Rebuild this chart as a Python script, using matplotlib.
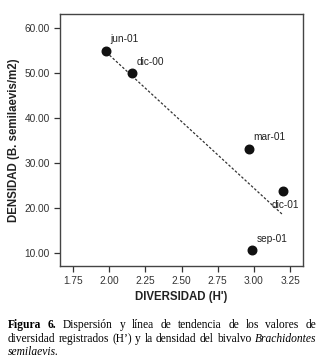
import matplotlib
matplotlib.use("Agg")
import matplotlib.pyplot as plt
import numpy as np

# Data
months = ["jun-01", "dic-00", "mar-01", "dic-01", "sep-01"]
diversity = np.array([1.98, 2.16, 2.97, 3.20, 2.99])
density = np.array([54.9, 49.9, 33.2, 23.7, 10.7])
xticks = [1.75, 2.00, 2.25, 2.50, 2.75, 3.00, 3.25]
yticks = [10, 20, 30, 40, 50, 60]

plt.rcParams['font.family'] = ['Liberation Sans', 'DejaVu Sans']

fig = plt.figure(figsize=(3.22, 3.59), dpi=100)
ax = fig.add_axes([60/322, 1 - 266/359, 243/322, 252/359])

ax.scatter(diversity, density, s=38, color='#111111', zorder=3)

# linear trend line
slope, icpt = np.polyfit(diversity, density, 1)
xl = np.array([diversity.min(), diversity.max()])
ax.plot(xl, slope * xl + icpt, linestyle=(0, (2, 1.5)), color='#333333', linewidth=0.9)

offsets = {"jun-01": (3, 6), "dic-00": (3, 6), "mar-01": (3, 6),
           "dic-01": (-8, -12), "sep-01": (3, 6)}
for m, x, y in zip(months, diversity, density):
    ax.annotate(m, (x, y), xytext=offsets[m], textcoords='offset points',
                fontsize=7.3, color='#222222')

ax.set_xlim(1.66, 3.34)
ax.set_ylim(7.2, 63.0)
ax.set_xticks(xticks)
ax.set_xticklabels([f"{v:.2f}" for v in xticks])
ax.set_yticks(yticks)
ax.set_yticklabels([f"{v:.2f}" for v in yticks])
ax.tick_params(labelsize=7.3, colors='#333333', length=4, width=0.9)
for s in ax.spines.values():
    s.set_color('#444444')
    s.set_linewidth(1.0)

ax.set_xlabel("DIVERSIDAD (H')", fontsize=8.3, fontweight='bold', color='#222222', labelpad=3)
ax.set_ylabel("DENSIDAD (B. semilaevis/m2)", fontsize=8.3, fontweight='bold', color='#222222', labelpad=3)

# caption, justified by spreading words between the margins
serif = ['Liberation Serif', 'DejaVu Serif']
fs = 8.3
left, right = 8, 316
lines = [
    ([("Figura", 'bold'), ("6.", 'bold'), ("Dispersión", ''), ("y", ''), ("línea", ''),
      ("de", ''), ("tendencia", ''), ("de", ''), ("los", ''), ("valores", ''), ("de", '')], 325, True),
    ([("diversidad", ''), ("registrados", ''), ("(H’)", ''), ("y", ''), ("la", ''),
      ("densidad", ''), ("del", ''), ("bivalvo", ''), ("Brachidontes", 'italic')], 339, True),
    ([("semilaevis.", 'italic')], 352, False),
]
renderer = fig.canvas.get_renderer()
for words, ypix, justify in lines:
    texts = []
    for w, st in words:
        t = fig.text(0, 1 - ypix/359, w, fontsize=fs, family=serif, va='center', ha='left',
                     fontweight='bold' if st == 'bold' else 'normal',
                     style='italic' if st == 'italic' else 'normal')
        texts.append(t)
    widths = [t.get_window_extent(renderer).width for t in texts]
    gap = (right - left - sum(widths)) / (len(texts) - 1) if justify and len(texts) > 1 else 3
    x = left
    for t, wd in zip(texts, widths):
        t.set_x(x / 322)
        x += wd + gap

fig.savefig('out.png', dpi=100)
